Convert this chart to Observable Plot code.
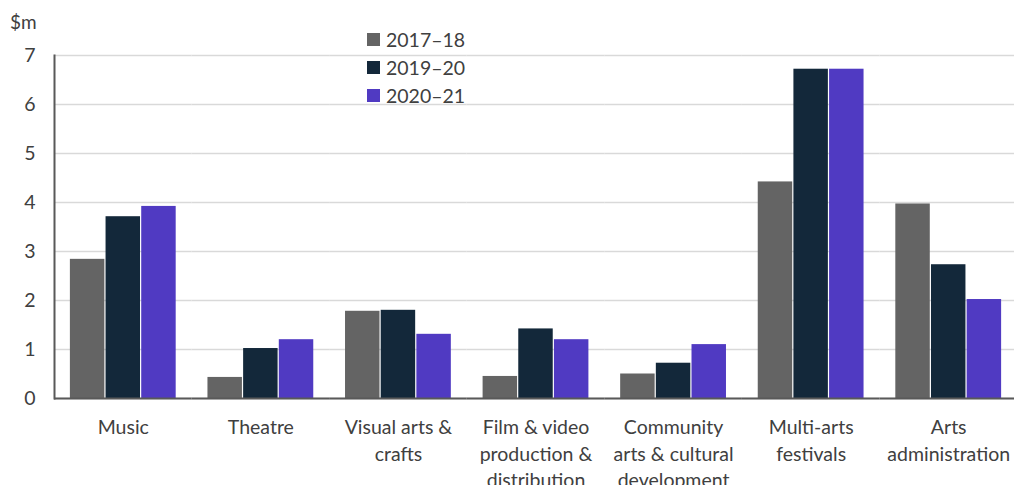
<!DOCTYPE html>
<html>
<head>
<meta charset="utf-8">
<script src="https://cdn.jsdelivr.net/npm/d3@7"></script>
<script src="https://cdn.jsdelivr.net/npm/@observablehq/plot@0.6"></script>
<style>
  html, body { margin: 0; padding: 0; background: #fff; }
  #wrap { position: relative; width: 1014px; height: 485px; font-family: Lato, "Open Sans", sans-serif; color: #404040; }
  #unit { position: absolute; left: 10px; top: 10px; font-size: 19px; }
  #legend { position: absolute; left: 367px; top: 26px; font-size: 19.5px; }
  #legend .row { display: flex; align-items: center; height: 27.7px; }
  #legend .sw { width: 13px; height: 13px; margin-right: 6px; }
  #chart { position: absolute; left: 0; top: 0; }
</style>
</head>
<body>
<div id="wrap">
  <div id="chart"></div>
  <div id="unit">$m</div>
  <div id="legend"></div>
</div>
<script>
const categories = ["Music", "Theatre", "Visual arts & crafts", "Film & video production & distribution", "Community arts & cultural development", "Multi-arts festivals", "Arts administration"];
const categoryLabels = ["Music", "Theatre", "Visual arts &\ncrafts", "Film & video\nproduction &\ndistribution", "Community\narts & cultural\ndevelopment", "Multi-arts\nfestivals", "Arts\nadministration"];
const series = ["2017–18", "2019–20", "2020–21"];
const values2017 = [2.84, 0.43, 1.78, 0.45, 0.50, 4.42, 3.97];
const values2019 = [3.71, 1.02, 1.80, 1.42, 0.72, 6.72, 2.73];
const values2020 = [3.92, 1.20, 1.31, 1.20, 1.10, 6.72, 2.02];
const yTicks = [0, 1, 2, 3, 4, 5, 6, 7];
const colors = ["#646464", "#13283A", "#503AC2"];

const seriesValues = [values2017, values2019, values2020];
const data = [];
categories.forEach((c, i) => {
  series.forEach((s, j) => data.push({category: c, series: s, value: seriesValues[j][i]}));
});
const labelOf = new Map(categories.map((c, i) => [c, categoryLabels[i]]));

const chart = Plot.plot({
  width: 1014,
  height: 485,
  marginLeft: 54,
  marginRight: -3,
  marginTop: 55,
  marginBottom: 87,
  style: {fontFamily: "Lato, 'Open Sans', sans-serif", fontSize: "19.5px", color: "#404040", background: "transparent"},
  fx: {domain: categories, paddingInner: 0, paddingOuter: 0, round: false, label: null},
  x: {domain: series, paddingInner: 0, paddingOuter: 0.4285, round: false, axis: null},
  y: {domain: [0, 7], ticks: yTicks, label: null},
  color: {domain: series, range: colors},
  marks: [
    Plot.gridY(yTicks, {stroke: "#d9d9d9", strokeOpacity: 1, strokeWidth: 1.5}),
    Plot.barY(data, {fx: "category", x: "series", y: "value", fill: "series", insetLeft: 0.6, insetRight: 0.6}),
    Plot.ruleY([0], {stroke: "#595959", strokeWidth: 2}),
    Plot.frame({anchor: "left", stroke: "#595959", strokeWidth: 2, facetAnchor: "left"}),
    Plot.axisY(yTicks, {tickSize: 0, tickPadding: 19, fontSize: 19.5, fill: "#404040", label: null}),
    Plot.axisFx({anchor: "bottom", tickSize: 0, tickPadding: 16, fontSize: 19.5, fill: "#404040", lineHeight: 1.38, label: null, tickFormat: d => labelOf.get(d)})
  ]
});
document.getElementById("chart").append(chart);

const legend = document.getElementById("legend");
series.forEach((s, j) => {
  const row = document.createElement("div");
  row.className = "row";
  const sw = document.createElement("span");
  sw.className = "sw";
  sw.style.background = colors[j];
  const t = document.createElement("span");
  t.textContent = s;
  row.append(sw, t);
  legend.append(row);
});
</script>
</body>
</html>
